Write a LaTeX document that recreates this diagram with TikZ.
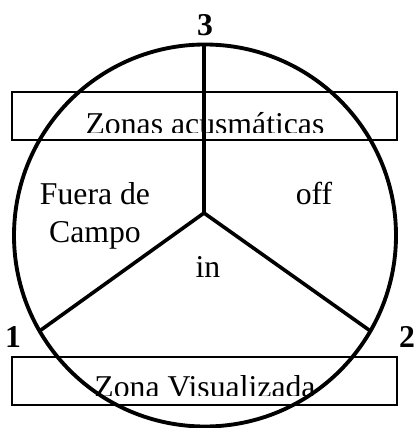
\documentclass[tikz,border=0pt]{standalone}
\usepackage{fontspec}
\setmainfont{Liberation Serif}
\usetikzlibrary{positioning}

\begin{document}
\begin{tikzpicture}[x=0.75pt, y=-0.75pt,
  ring/.style={circle, draw, line width=2.9pt, outer sep=0pt, inner sep=0pt,
    minimum size=286.5pt},
  sector/.style={line width=2.7pt},
  zone/.style={draw, line width=1.1pt, inner sep=0pt,
    minimum width=288.75pt, minimum height=36pt},
  lbl/.style={font=\fontsize{23.8}{28.5}\selectfont, align=center},
  num/.style={font=\fontsize{23.8}{28.5}\selectfont\bfseries}
]
\useasboundingbox (0,0) rectangle (416,428);

% circle and its three sectors
\node[ring] (ring) at (205,235.5) {};
\coordinate (o) at (204,213);
\draw[sector] (o) -- (ring.north -| o);
\draw[sector] (o) -- (ring.210);
\draw[sector] (o) -- (ring.330);

% zones
\node[zone] (acus) at (204.5,116) {};
\node[zone] (visu) at (204.5,381) {};
\begin{scope}
  \clip (12,92) rectangle (397,132);
  \node[lbl, anchor=base] (acustxt) at (205,134) {Zonas acusmáticas};
\end{scope}
\begin{scope}
  \clip (12,357) rectangle (397,395);
  \node[lbl, anchor=base] (visutxt) at (205,397) {Zona Visualizada};
\end{scope}

% sector labels
\node[lbl, anchor=base] (fuera) at (95,204) {Fuera de};
\node[lbl, anchor=base] (campo) at (95,242) {Campo};
\node[lbl, anchor=base] (off) at (314,204) {off};
\node[lbl, anchor=base] (in) at (208,277) {in};

% numbers
\node[num] (n3) at (205,25) {3};
\node[num] (n1) at (13,337) {1};
\node[num] (n2) at (407,337) {2};
\end{tikzpicture}
\end{document}
